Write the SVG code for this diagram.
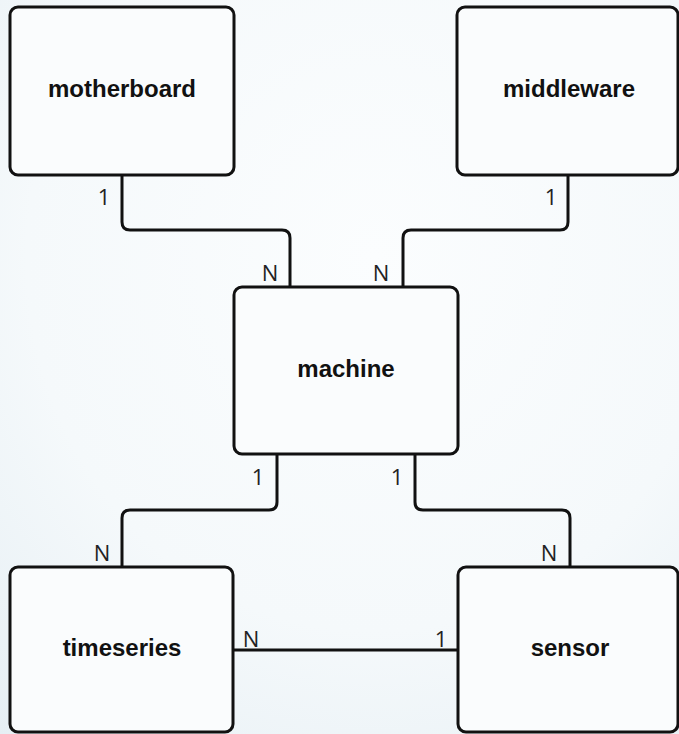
<svg xmlns="http://www.w3.org/2000/svg" width="679" height="734" viewBox="0 0 679 734">
  <defs>
    <radialGradient id="bg" cx="0.55" cy="0.35" r="0.85">
      <stop offset="0" stop-color="#fbfdfe"/>
      <stop offset="0.6" stop-color="#f5f9fb"/>
      <stop offset="1" stop-color="#e6eff4"/>
    </radialGradient>
    <style>
      .box { fill: #fafcfd; stroke: #111; stroke-width: 3; }
      .name { font-family: "Liberation Sans", Arial, sans-serif; font-weight: bold; font-size: 24px; fill: #111; text-anchor: middle; }
      .card { font-family: "Open Sans", "Liberation Sans", sans-serif; font-size: 22px; fill: #222; text-anchor: middle; }
      .link { fill: none; stroke: #111; stroke-width: 3; stroke-linejoin: round; }
    </style>
  </defs>

  <rect x="0" y="0" width="679" height="734" fill="url(#bg)"/>

  <!-- connectors and their cardinality labels -->
  <g id="connectors">
    <path class="link" d="M122,175 V222 Q122,230 130,230 H282 Q290,230 290,238 V287"/>
    <path class="link" d="M568,175 V222 Q568,230 560,230 H411 Q403,230 403,238 V287"/>
    <path class="link" d="M277,454 V502 Q277,510 269,510 H130 Q122,510 122,518 V567"/>
    <path class="link" d="M415,454 V502 Q415,510 423,510 H562 Q570,510 570,518 V567"/>
    <path class="link" d="M233,650 H458"/>
    <text class="card" x="104" y="205">1</text>
    <text class="card" x="270" y="281">N</text>
    <text class="card" x="381" y="281">N</text>
    <text class="card" x="551" y="205">1</text>
    <text class="card" x="258" y="485">1</text>
    <text class="card" x="397" y="485">1</text>
    <text class="card" x="102" y="561">N</text>
    <text class="card" x="549" y="561">N</text>
    <text class="card" x="251" y="647">N</text>
    <text class="card" x="441" y="647">1</text>
  </g>

  <g id="motherboard">
    <rect class="box" x="10" y="7" width="224" height="168" rx="8"/>
    <text class="name" x="122" y="97">motherboard</text>
  </g>

  <g id="middleware">
    <rect class="box" x="457" y="7" width="221" height="168" rx="8"/>
    <text class="name" x="569" y="97">middleware</text>
  </g>

  <g id="machine">
    <rect class="box" x="234" y="287" width="224" height="167" rx="8"/>
    <text class="name" x="346" y="377">machine</text>
  </g>

  <g id="timeseries">
    <rect class="box" x="10" y="567" width="223" height="165" rx="8"/>
    <text class="name" x="122" y="656">timeseries</text>
  </g>

  <g id="sensor">
    <rect class="box" x="458" y="567" width="220" height="165" rx="8"/>
    <text class="name" x="570" y="656">sensor</text>
  </g>
</svg>
